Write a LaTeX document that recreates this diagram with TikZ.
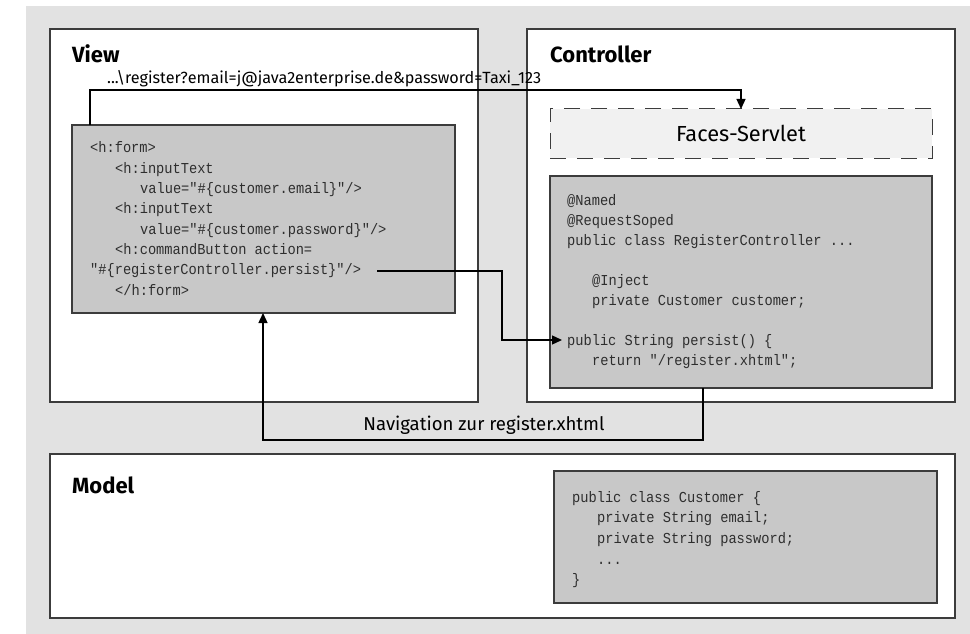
\documentclass[tikz,border=0pt]{standalone}
\usepackage{fontspec}
\setmainfont{Fira Sans}
\newfontfamily\codefont[FakeStretch=0.9]{Liberation Mono}
\usetikzlibrary{arrows.meta,calc}

\definecolor{bggray}{HTML}{E2E2E2}
\definecolor{codegray}{HTML}{C8C8C8}
\definecolor{servletfill}{HTML}{F1F1F1}
\definecolor{framegray}{HTML}{3C3C3C}
\definecolor{codetext}{HTML}{2E2E2E}

\tikzset{
  panel/.style={draw=framegray, line width=1.1pt, fill=white, rectangle,
    inner sep=0pt, outer sep=0pt, anchor=north west},
  codebox/.style={draw=framegray, line width=1.1pt, fill=codegray, rectangle,
    inner sep=0pt, outer sep=0pt, anchor=north west},
  servletbox/.style={draw=framegray, line width=1pt, fill=servletfill,
    dash pattern=on 16pt off 11pt, rectangle, inner sep=0pt, outer sep=0pt,
    anchor=north west},
  paneltitle/.style={anchor=base west, inner sep=0pt,
    font=\bfseries\fontsize{22}{26}\selectfont},
  codeline/.style={anchor=base west, inner sep=0pt, text=codetext,
    font=\codefont\fontsize{15.2}{18}\selectfont},
  urltext/.style={anchor=base west, inner sep=0pt,
    font=\fontsize{16.2}{19}\selectfont},
  navtext/.style={anchor=base, inner sep=0pt,
    font=\fontsize{18.6}{22}\selectfont},
  conn/.style={draw=black, line width=1.3pt,
    -{Triangle[length=10pt,width=9pt]}},
}

\begin{document}
\begin{tikzpicture}[x=1pt,y=-1pt]
\useasboundingbox (0,0) rectangle (970,634);
\fill[bggray] (26,6) rectangle (970,634);

% the three panels
\node[panel, minimum width=428pt, minimum height=373pt] (view) at (50,29) {};
\node[panel, minimum width=428pt, minimum height=373pt] (controller) at (527,29) {};
\node[panel, minimum width=905pt, minimum height=164pt] (model) at (50,454) {};

\node[paneltitle] (viewtitle) at (72,63) {View};
\node[paneltitle] (controllertitle) at (550,63) {Controller};
\node[paneltitle] (modeltitle) at (72,493) {Model};

% code boxes and the servlet
\node[codebox, minimum width=383pt, minimum height=188pt] (vcode) at (72,125) {};
\node[servletbox, minimum width=382pt, minimum height=49pt] (servlet) at (550,109) {};
\node[anchor=base, inner sep=0pt, font=\fontsize{21.8}{26}\selectfont] (servlettext) at (741,141) {Faces-Servlet};
\node[codebox, minimum width=382pt, minimum height=212pt] (ccode) at (550,176) {};
\node[codebox, minimum width=383pt, minimum height=132pt] (mcode) at (554,471) {};

% JSF page
\node[codeline] (v1) at (90,153) {<h:form>};
\node[codeline] (v2) at (115,173.3) {<h:inputText};
\node[codeline] (v3) at (140,193.6) {value="\#\{customer.email\}"/>};
\node[codeline] (v4) at (115,213.9) {<h:inputText};
\node[codeline] (v5) at (140,234.2) {value="\#\{customer.password\}"/>};
\node[codeline] (v6) at (115,254.5) {<h:commandButton action=};
\node[codeline] (v7) at (90,274.8) {"\#\{registerController.persist\}"/>};
\node[codeline] (v8) at (115,295.1) {</h:form>};

% controller bean
\node[codeline] (c1) at (567,205) {@Named};
\node[codeline] (c2) at (567,225) {@RequestSoped};
\node[codeline] (c3) at (567,245) {public class RegisterController ...};
\node[codeline] (c4) at (592,285) {@Inject};
\node[codeline] (c5) at (592,305) {private Customer customer;};
\node[codeline] (c6) at (567,345) {public String persist() \{};
\node[codeline] (c7) at (592,365) {return "/register.xhtml";};

% model class
\node[codeline] (m1) at (572,502) {public class Customer \{};
\node[codeline] (m2) at (597,522.7) {private String email;};
\node[codeline] (m3) at (597,543.4) {private String password;};
\node[codeline] (m4) at (597,564.1) {...};
\node[codeline] (m5) at (572,584.8) {\}};

% request from the page to the servlet
\coordinate (urlbend) at (90,90);
\node[urltext] (url) at (107,84) {...\textbackslash register?email=j@java2enterprise.de\&password=Taxi\_123};
\draw[conn] (vcode.north -| urlbend) -- (urlbend) -| (servlet.north);

% action call into the controller
\coordinate (pstart) at (377,271);
\coordinate (pbend) at (502,271);
\coordinate (ptarget) at (562,340);
\draw[conn] (pstart) -- (pbend) |- (ptarget);

% navigation back to the page
\coordinate (navr) at (703,440);
\coordinate (navl) at (263,440);
\draw[conn] (ccode.south -| navr) -- (navr) -- (navl) -- (vcode.south -| navl);
\node[navtext] (navlabel) at (484,430) {Navigation zur register.xhtml};
\end{tikzpicture}
\end{document}
